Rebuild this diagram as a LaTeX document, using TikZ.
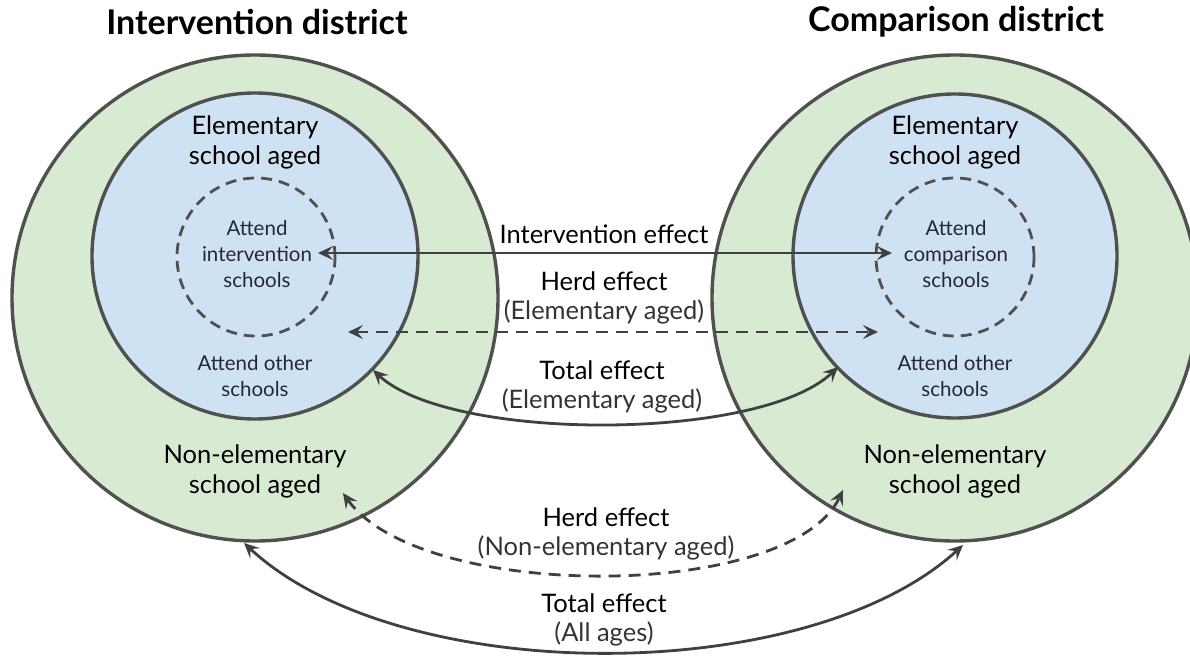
\documentclass[tikz,border=0pt]{standalone}
\usepackage{fontspec}
\setmainfont{Lato}
\usetikzlibrary{arrows.meta}
\definecolor{ringgreen}{HTML}{D9EAD3}
\definecolor{coreblue}{HTML}{CFE2F3}
\definecolor{rimgray}{HTML}{505050}
\definecolor{arrowgray}{HTML}{404040}
\definecolor{inktext}{HTML}{22283A}
\definecolor{subgray}{HTML}{333333}

\begin{document}
\begin{tikzpicture}[x=1pt,y=-1pt,
		rim/.style={draw=rimgray, line width=3.4pt},
		pupils/.style={draw=rimgray, line width=2.8pt, dash pattern=on 11pt off 7pt},
		effect/.style={draw=arrowgray, line width=2.8pt,
			{Stealth[length=15pt,width=14pt,inset=6pt]}-{Stealth[length=15pt,width=14pt,inset=6pt]}},
		herd/.style={effect, dash pattern=on 12pt off 8pt},
		ttl/.style={font=\bfseries\fontsize{34}{38}\selectfont},
		grp/.style={font=\fontsize{25.5}{30}\selectfont, align=center},
		sub/.style={font=\fontsize{20.5}{26}\selectfont, align=center, text=inktext},
		eff/.style={font=\fontsize{25.5}{29}\selectfont, align=center}
	]
	\useasboundingbox (0,0) rectangle (1190,658);
	\clip (0,0) rectangle (1190,658);

	% districts
	\path[rim, fill=ringgreen] (255,298) circle (243pt);
	\path[rim, fill=coreblue] (255,256) circle (163pt);
	\path[pupils] (256,257) circle (79pt);

	\path[rim, fill=ringgreen] (955,298) circle (243pt);
	\path[rim, fill=coreblue] (955,256) circle (162pt);
	\path[pupils] (955,257) circle (79pt);

	\node[ttl] (titleL) at (257,22) {Intervention district};
	\node[ttl] (titleR) at (956,22) {Comparison district};

	\node[grp] (elemL) at (255,142) {Elementary\\school aged};
	\node[grp] (elemR) at (955,142) {Elementary\\school aged};
	\node[sub] (attL) at (257,254) {Attend\\intervention\\schools};
	\node[sub] (attR) at (956,254) {Attend\\comparison\\schools};
	\node[sub] (othL) at (255,376) {Attend other\\schools};
	\node[sub] (othR) at (955,376) {Attend other\\schools};
	\node[grp] (nonL) at (255,471) {Non-elementary\\school aged};
	\node[grp] (nonR) at (955,471) {Non-elementary\\school aged};

	% effects
	\coordinate (intA) at (318,253);
	\coordinate (intB) at (892,253);
	\coordinate (herdEA) at (348,332);
	\coordinate (herdEB) at (878,332);
	\coordinate (totEA) at (373,370);
	\coordinate (totEB) at (838,367);
	\coordinate (herdNA) at (343,493);
	\coordinate (herdNB) at (843,490);
	\coordinate (totAA) at (244,543);
	\coordinate (totAB) at (963,545);

	\draw[effect] (intA) -- (intB);
	\draw[herd] (herdEA) -- (herdEB);
	\draw[effect] (totEA) .. controls (450,442) and (760,442) .. (totEB);
	\draw[herd] (herdNA) .. controls (420,602) and (790,602) .. (herdNB);
	\draw[effect] (totAA) .. controls (400,688) and (807,688) .. (totAB);

	\node[eff] (intEff) at (604,234) {Intervention effect};
	\node[eff] (herdE) at (604,298) {Herd effect\\{\color{subgray}(Elementary aged)}};
	\node[eff] (totE) at (602,387) {Total effect\\{\color{subgray}(Elementary aged)}};
	\node[eff] (herdN) at (606,534) {Herd effect\\{\color{subgray}(Non-elementary aged)}};
	\node[eff] (totAll) at (604,620) {Total effect\\{\color{subgray}(All ages)}};
\end{tikzpicture}
\end{document}
